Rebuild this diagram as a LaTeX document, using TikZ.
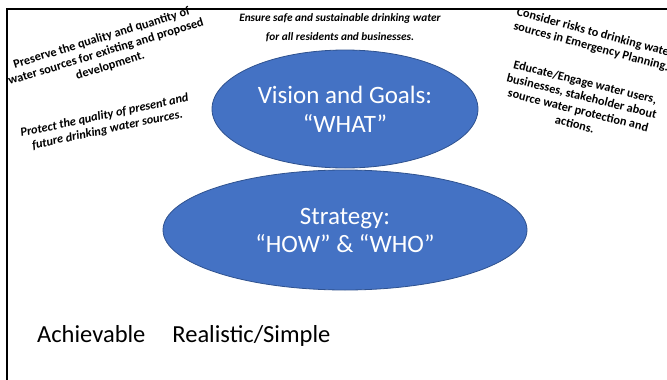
\documentclass[tikz,border=0pt]{standalone}
\usepackage{fontspec}
\setmainfont{Carlito}
\usetikzlibrary{shapes.geometric}
\definecolor{ovalfill}{HTML}{4472C4}
\definecolor{ovaledge}{HTML}{2F528F}
\begin{document}
\begin{tikzpicture}[x=1pt,y=-1pt,
  oval/.style={ellipse, draw=ovaledge, line width=0.8pt, fill=ovalfill, text=white, align=center, inner sep=0pt},
  note/.style={align=center, font=\bfseries\fontsize{12.3}{14.5}\selectfont, inner sep=0pt},
  inote/.style={note, font=\bfseries\itshape\fontsize{12.3}{14.5}\selectfont}]
\useasboundingbox (0,0) rectangle (667,380);
\draw[line width=1.6pt] (7,380) -- (7,9) -- (667,9);
\node[oval, minimum width=266pt, minimum height=118pt, font=\fontsize{25}{29}\selectfont] (vision) at (345,109) {Vision and Goals:\\“WHAT”};
\node[oval, minimum width=364pt, minimum height=120pt, font=\fontsize{25}{28}\selectfont] (strategy) at (345,230) {Strategy:\\“HOW” \& “WHO”};
\node[inote, font=\bfseries\itshape\fontsize{11.3}{19}\selectfont] (ensure) at (340,28) {Ensure safe and sustainable drinking water\\for all residents and businesses.};
\node[note, rotate=17] (preserve) at (106,52) {Preserve the quality and quantity of\\water sources for existing and proposed\\development.};
\node[inote, rotate=12] (protect) at (106,123) {Protect the quality of present and\\future drinking water sources.};
\node[note, rotate=-15] (consider) at (593,40) {Consider risks to drinking water\\sources in Emergency Planning.};
\node[note, rotate=-14] (educate) at (580,103) {Educate/Engage water users,\\businesses, stakeholder about\\source water protection and\\actions.};
\node[anchor=base west, inner sep=0pt, font=\fontsize{24.5}{28}\selectfont] (achieve) at (37,342) {Achievable\hspace{27pt}Realistic/Simple};
\end{tikzpicture}
\end{document}
